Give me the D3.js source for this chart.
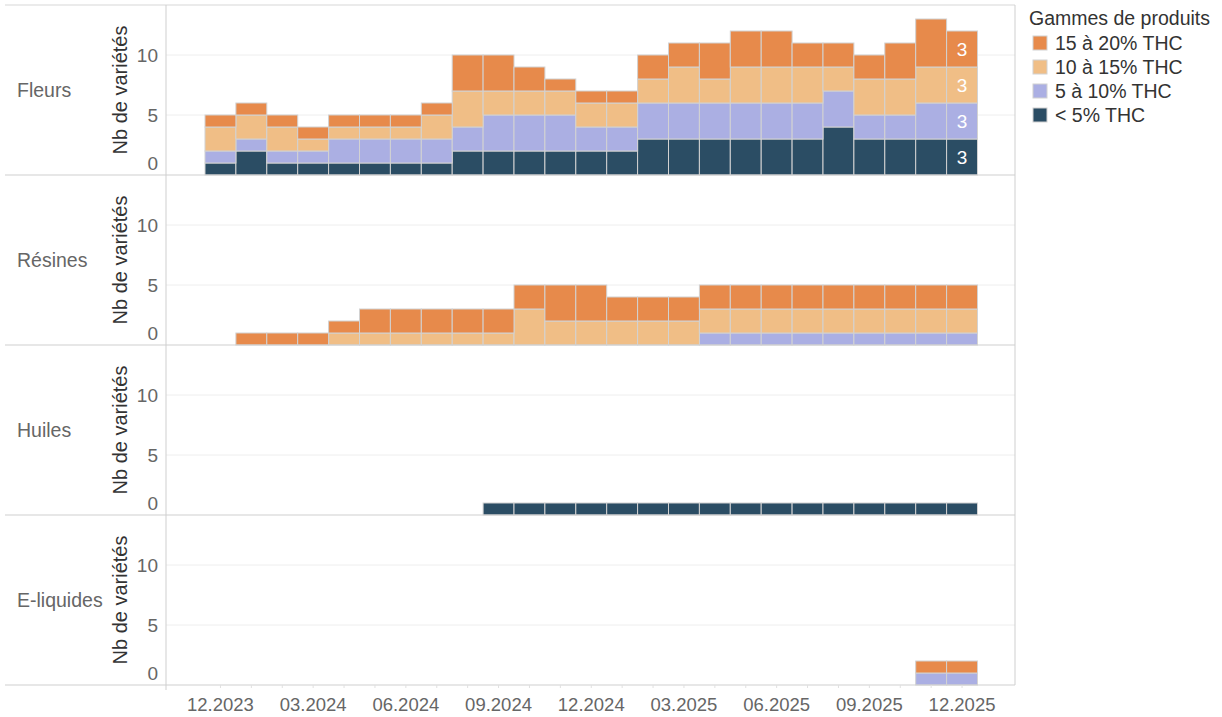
<!DOCTYPE html>
<html>
<head>
<meta charset="utf-8">
<script src="https://cdn.jsdelivr.net/npm/d3@7"></script>
<style>
  html, body { margin: 0; padding: 0; background: #fff; }
  svg { display: block; font-family: "Liberation Sans", Arial, sans-serif; }
</style>
</head>
<body>
<svg id="chart" width="1222" height="717"></svg>
<script>
// Months shown on the time axis (12.2023 → 12.2025)
const months = [
  "12.2023","01.2024","02.2024","03.2024","04.2024","05.2024","06.2024","07.2024","08.2024",
  "09.2024","10.2024","11.2024","12.2024","01.2025","02.2025","03.2025","04.2025","05.2025",
  "06.2025","07.2025","08.2025","09.2025","10.2025","11.2025","12.2025"
];
const tickMonths = ["12.2023","03.2024","06.2024","09.2024","12.2024","03.2025","06.2025","09.2025","12.2025"];

// THC ranges, stacked bottom to top
const ranges = ["< 5% THC", "5 à 10% THC", "10 à 15% THC", "15 à 20% THC"];
const rangeColors = ["#2b4d64", "#abafe3", "#f0be86", "#e78a4b"];

const productTypes = ["Fleurs", "Résines", "Huiles", "E-liquides"];

// Number of varieties per month, one array per THC range
const fleursLow   = [1,2,1,1,1,1,1,1,2,2,2,2,2,2,3,3,3,3,3,3,4,3,3,3,3];
const fleurs5_10  = [1,1,1,1,2,2,2,2,2,3,3,3,2,2,3,3,3,3,3,3,3,2,2,3,3];
const fleurs10_15 = [2,2,2,1,1,1,1,2,3,2,2,2,2,2,2,3,2,3,3,3,2,3,3,3,3];
const fleurs15_20 = [1,1,1,1,1,1,1,1,3,3,2,1,1,1,2,2,3,3,3,2,2,2,3,4,3];

const resinesLow   = [0,0,0,0,0,0,0,0,0,0,0,0,0,0,0,0,0,0,0,0,0,0,0,0,0];
const resines5_10  = [0,0,0,0,0,0,0,0,0,0,0,0,0,0,0,0,1,1,1,1,1,1,1,1,1];
const resines10_15 = [0,0,0,0,1,1,1,1,1,1,3,2,2,2,2,2,2,2,2,2,2,2,2,2,2];
const resines15_20 = [0,1,1,1,1,2,2,2,2,2,2,3,3,2,2,2,2,2,2,2,2,2,2,2,2];

const huilesLow   = [0,0,0,0,0,0,0,0,0,1,1,1,1,1,1,1,1,1,1,1,1,1,1,1,1];
const huiles5_10  = [0,0,0,0,0,0,0,0,0,0,0,0,0,0,0,0,0,0,0,0,0,0,0,0,0];
const huiles10_15 = [0,0,0,0,0,0,0,0,0,0,0,0,0,0,0,0,0,0,0,0,0,0,0,0,0];
const huiles15_20 = [0,0,0,0,0,0,0,0,0,0,0,0,0,0,0,0,0,0,0,0,0,0,0,0,0];

const eliqLow   = [0,0,0,0,0,0,0,0,0,0,0,0,0,0,0,0,0,0,0,0,0,0,0,0,0];
const eliq5_10  = [0,0,0,0,0,0,0,0,0,0,0,0,0,0,0,0,0,0,0,0,0,0,0,1,1];
const eliq10_15 = [0,0,0,0,0,0,0,0,0,0,0,0,0,0,0,0,0,0,0,0,0,0,0,0,0];
const eliq15_20 = [0,0,0,0,0,0,0,0,0,0,0,0,0,0,0,0,0,0,0,0,0,0,0,1,1];

const yTicks = [0, 5, 10];
// Month whose segments carry value labels
const labelledMonth = { type: "Fleurs", month: "12.2025" };

const seriesByType = {
  "Fleurs":     [fleursLow, fleurs5_10, fleurs10_15, fleurs15_20],
  "Résines":    [resinesLow, resines5_10, resines10_15, resines15_20],
  "Huiles":     [huilesLow, huiles5_10, huiles10_15, huiles15_20],
  "E-liquides": [eliqLow, eliq5_10, eliq10_15, eliq15_20]
};

const svg = d3.select("#chart");

const plotLeft = 166, plotRight = 1015;
const panelTop = 5, panelH = 170;
const lineColor = "#cfcfcf";
const gridColor = "#eeeeee";

const x = d3.scaleBand().domain(months).range([205, 977.5]).paddingInner(0).paddingOuter(0);
const color = d3.scaleOrdinal().domain(ranges).range(rangeColors);
const stack = d3.stack().keys(d3.range(ranges.length));

productTypes.forEach((type, p) => {
  const top = panelTop + p * panelH;
  const bottom = top + panelH;
  const y = d3.scaleLinear().domain([0, panelH / 12]).range([bottom, top]);
  const g = svg.append("g");

  // gridlines
  g.selectAll("line.grid").data(yTicks.filter(t => t > 0)).join("line")
    .attr("x1", plotLeft).attr("x2", plotRight)
    .attr("y1", d => y(d)).attr("y2", d => y(d))
    .attr("stroke", gridColor).attr("stroke-width", 1);

  // row header
  g.append("text")
    .attr("x", 17).attr("y", (top + bottom) / 2)
    .attr("dominant-baseline", "central")
    .attr("font-size", 19.5).attr("fill", "#666")
    .text(type);

  // y axis title
  g.append("text")
    .attr("transform", `translate(${127},${(top + bottom) / 2}) rotate(-90)`)
    .attr("text-anchor", "middle")
    .attr("font-size", 20).attr("fill", "#333")
    .text("Nb de variétés");

  // y tick labels (bottom label kept inside the row)
  g.selectAll("text.ytick").data(yTicks).join("text")
    .attr("x", 158)
    .attr("y", d => d === 0 ? y(d) - 12 : y(d))
    .attr("text-anchor", "end")
    .attr("dominant-baseline", "central")
    .attr("font-size", 19).attr("fill", "#666")
    .text(d => d);

  // stacked bars
  const rows = months.map((m, i) => seriesByType[type].map(s => s[i]));
  const layers = stack(rows);
  layers.forEach((layer, k) => {
    g.selectAll(null).data(layer.map((d, i) => ({ d, i })).filter(o => o.d[1] - o.d[0] > 0)).join("rect")
      .attr("x", o => x(months[o.i]))
      .attr("width", x.bandwidth())
      .attr("y", o => y(o.d[1]))
      .attr("height", o => y(o.d[0]) - y(o.d[1]))
      .attr("fill", color(ranges[k]))
      .attr("stroke", "#d2d2d2").attr("stroke-width", 1);

    if (type === labelledMonth.type) {
      const i = months.indexOf(labelledMonth.month);
      const d = layer[i];
      if (d[1] - d[0] > 0) {
        g.append("text")
          .attr("x", x(months[i]) + x.bandwidth() / 2)
          .attr("y", y((d[0] + d[1]) / 2))
          .attr("text-anchor", "middle")
          .attr("dominant-baseline", "central")
          .attr("font-size", 19).attr("fill", "#fff")
          .text(d[1] - d[0]);
      }
    }
  });

  // row separator
  g.append("line")
    .attr("x1", 5).attr("x2", plotRight)
    .attr("y1", bottom).attr("y2", bottom)
    .attr("stroke", lineColor).attr("stroke-width", 1.2);
});

// top border, left and right frame lines
svg.append("line").attr("x1", 5).attr("x2", plotRight).attr("y1", panelTop).attr("y2", panelTop)
  .attr("stroke", "#d8d8d8").attr("stroke-width", 1.2);
svg.append("line").attr("x1", plotLeft).attr("x2", plotLeft).attr("y1", panelTop).attr("y2", panelTop + 4 * panelH + 5)
  .attr("stroke", lineColor).attr("stroke-width", 1);
svg.append("line").attr("x1", plotRight).attr("x2", plotRight).attr("y1", panelTop).attr("y2", panelTop + 4 * panelH)
  .attr("stroke", lineColor).attr("stroke-width", 1);

// x axis ticks and labels
const axisY = panelTop + 4 * panelH;
svg.selectAll("line.xtick").data(months).join("line")
  .attr("x1", d => x(d) + x.bandwidth() / 2).attr("x2", d => x(d) + x.bandwidth() / 2)
  .attr("y1", axisY).attr("y2", axisY + 3)
  .attr("stroke", "#e0e0e0").attr("stroke-width", 1);
svg.selectAll("text.xlabel").data(tickMonths).join("text")
  .attr("x", d => x(d) + x.bandwidth() / 2)
  .attr("y", 704)
  .attr("text-anchor", "middle")
  .attr("dominant-baseline", "central")
  .attr("font-size", 18.5).attr("fill", "#666")
  .text(d => d);

// legend
const legend = svg.append("g");
legend.append("text")
  .attr("x", 1029).attr("y", 18)
  .attr("dominant-baseline", "central")
  .attr("font-size", 19.5).attr("fill", "#333")
  .text("Gammes de produits");
const legendOrder = ranges.slice().reverse();
const items = legend.selectAll("g").data(legendOrder).join("g")
  .attr("transform", (d, i) => `translate(1033,${43 + i * 24})`);
items.append("rect")
  .attr("x", 0).attr("y", -7).attr("width", 14).attr("height", 14)
  .attr("fill", d => color(d)).attr("stroke", "#d2d2d2").attr("stroke-width", 1);
items.append("text")
  .attr("x", 22).attr("y", 0)
  .attr("dominant-baseline", "central")
  .attr("font-size", 19.5).attr("fill", "#333")
  .text(d => d);
</script>
</body>
</html>
